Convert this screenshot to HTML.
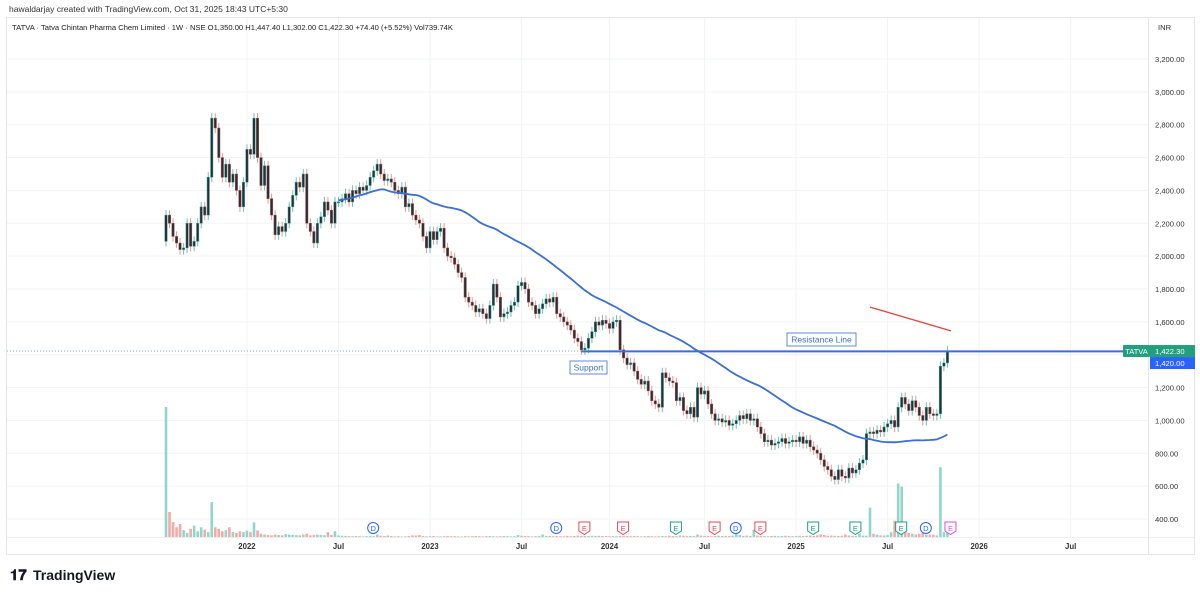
<!DOCTYPE html>
<html><head><meta charset="utf-8">
<style>
html,body{margin:0;padding:0;background:#fff;}
body{width:1200px;height:594px;position:relative;overflow:hidden;font-family:"Liberation Sans",sans-serif;}
svg{position:absolute;left:0;top:0;}
</style></head>
<body>
<svg id="chart" width="1200" height="594" xmlns="http://www.w3.org/2000/svg">
<text x="9" y="12" font-size="8.5" fill="#333">hawaldarjay created with TradingView.com, Oct 31, 2025 18:43 UTC+5:30</text>
<rect x="6.5" y="17.5" width="1188" height="537" fill="#fff" stroke="#e6e6e6"/>
<g id="grid"></g>
<line x1="1148.5" y1="18" x2="1148.5" y2="554" stroke="#e6e6e6"/>
<line x1="7" y1="537.5" x2="1194" y2="537.5" stroke="#eeeeee"/>
<text x="12" y="30" font-size="7.6" fill="#222">TATVA · Tatva Chintan Pharma Chem Limited · 1W · NSE  O1,350.00  H1,447.40  L1,302.00  C1,422.30  +74.40 (+5.52%)  Vol739.74K</text>
<text x="1158" y="30" font-size="7.6" fill="#333">INR</text>
<g id="vol"></g>
<g id="candles"></g>
<g id="overlays"></g>
<g id="axes"></g>
<g id="events"></g>
<g>
<text x="10" y="580" font-size="15" font-weight="bold" fill="#131722">𝟏𝟕</text>
<text x="33" y="580" font-size="14" font-weight="bold" fill="#131722">TradingView</text>
</g>
</svg>
<script>
const closes = [2250,2200,2120,2080,2040,2050,2200,2060,2090,2200,
2300,2250,2480,2840,2780,2600,2480,2560,2450,2500,
2400,2300,2450,2650,2620,2840,2600,2430,2550,2350,
2250,2130,2180,2150,2200,2300,2370,2450,2420,2500,
2200,2150,2080,2200,2240,2330,2280,2200,2330,2330,
2350,2380,2330,2400,2380,2420,2400,2430,2480,2520,
2560,2500,2460,2470,2450,2400,2380,2420,2300,2320,
2250,2220,2200,2120,2050,2150,2100,2150,2170,2050,
2000,1990,1950,1900,1870,1750,1720,1700,1660,1680,
1650,1620,1700,1830,1750,1630,1650,1660,1700,1720,
1820,1840,1800,1720,1700,1650,1680,1710,1740,1720,
1750,1650,1630,1600,1580,1550,1500,1480,1430,1440,
1500,1540,1600,1580,1610,1590,1560,1600,1610,1430,
1380,1340,1350,1300,1250,1220,1240,1180,1120,1100,
1080,1290,1260,1240,1230,1120,1140,1060,1040,1080,
1020,1200,1160,1180,1100,1040,1000,1010,990,1000,
970,980,1000,1030,1010,1040,1000,1010,960,920,
870,880,850,860,870,890,860,870,880,870,
900,860,880,840,820,800,760,720,700,660,
640,700,660,650,710,680,700,740,760,920,
930,920,940,930,960,980,1000,960,1080,1140,
1100,1060,1120,1080,1030,1000,1080,1040,1030,1040,
1330,1350,1422];
const firstOpen = 2090;
const volumes = [8000,1540,920,600,800,430,250,500,700,350,
600,450,300,2150,600,500,350,420,600,300,
250,350,300,400,300,900,400,200,150,120,
100,150,120,100,180,150,130,120,100,150,
200,100,120,150,130,110,300,120,350,100,
80,70,60,50,60,50,40,50,60,50,
150,80,60,90,60,40,50,30,40,60,
100,90,120,60,40,50,60,40,40,50,
60,50,50,40,30,50,40,50,60,50,
40,50,60,50,40,50,60,50,40,50,
120,80,60,50,40,50,60,150,70,60,
50,60,50,40,60,50,60,80,60,70,
60,80,60,70,60,60,50,60,50,60,
70,60,50,60,50,40,50,60,50,40,
50,60,50,70,60,50,100,80,60,70,
60,150,90,70,60,50,60,80,60,70,
60,80,300,120,70,90,60,450,90,70,
60,50,60,70,50,60,80,60,50,60,
70,60,80,90,70,100,150,120,80,90,
70,60,80,150,90,70,60,200,90,80,
1800,200,150,100,90,120,300,1000,3300,3100,
600,250,200,150,200,250,150,150,150,100,
4300,300,739.74];
const priceTicks = [3200,3000,2800,2600,2400,2200,2000,1800,1600,1400,1200,1000,800,600,400];
const timeTickLabels = ["2022","Jul","2023","Jul","2024","Jul","2025","Jul","2026","Jul"];
const timeTickWeeks = [23,49,75,101,126,153,179,205,231,257];
const resistancePrice = 1420;
const resistanceStartWeek = 118;
const trendLineWeeks = [200,223];
const trendLinePrices = [1690,1545];
const eventWeeks = [59,111,119,130,145,156,162,169,184,196,209,216,223];
const eventTypes = ["D","D","E","E","E","E","D","E","E","E","E","D","E"];
const eventColors = ["#2962ff","#2962ff","#e04b5a","#e04b5a","#1a9e8c","#e04b5a","#2962ff","#e04b5a","#1a9e8c","#1a9e8c","#1a9e8c","#2962ff","#d64fd8"];
const maPeriod = 50;

const NS="http://www.w3.org/2000/svg";
const x0=166, dx=3.52;
const xOf=i=>x0+i*dx;
const yOf=p=>519-(p-400)*(460/2800);
const volBase=537, volScale=130/8000;
function mk(tag,attrs,parent){const e=document.createElementNS(NS,tag);for(const k in attrs)e.setAttribute(k,attrs[k]);parent.appendChild(e);return e;}

const grid=document.getElementById('grid');
priceTicks.forEach(p=>{const l=mk('line',{x1:7,x2:1148,y1:yOf(p),y2:yOf(p),stroke:'#f2f3f5'},grid);

});
timeTickWeeks.forEach(w=>{const l=mk('line',{x1:xOf(w),x2:xOf(w),y1:18,y2:537,stroke:'#f2f3f5'},grid);

});

const axes=document.getElementById('axes');
priceTicks.forEach(p=>{const t=mk('text',{x:1155,y:yOf(p)+3,'font-size':'7.6',fill:'#333'},axes);t.textContent=p.toLocaleString('en-US',{minimumFractionDigits:2});

});
timeTickLabels.forEach((s,i)=>{const t=mk('text',{x:xOf(timeTickWeeks[i]),y:549,'font-size':'7.8','font-weight':'bold',fill:'#333','text-anchor':'middle'},axes);t.textContent=s;

});

const vol=document.getElementById('vol'), cg=document.getElementById('candles');
closes.forEach((c,i)=>{
  const o=i===0?firstOpen:closes[i-1];
  const up=c>=o;
  const h=volumes[i]*volScale;
  const vb=mk('rect',{x:xOf(i)-1.3,y:volBase-h,width:2.6,height:h,fill:up?'#92d5cc':'#f4aaa5'},vol);
  
  
  const top=yOf(Math.max(o,c)), bot=yOf(Math.min(o,c));
  const wk=mk('line',{x1:xOf(i),x2:xOf(i),y1:top-5,y2:bot+5,stroke:up?'#6cc2b6':'#e39a94','stroke-width':1},cg);
  
  
  const bd=mk('rect',{x:xOf(i)-1.2,y:top,width:2.4,height:Math.max(1,bot-top),fill:'#2a2e39',stroke:up?'#3a9d90':'#a0524c','stroke-width':0.5},cg);
  
  
});

const ov=document.getElementById('overlays');
let pts=[];
for(let i=maPeriod-1;i<closes.length;i++){let s=0;for(let j=i-maPeriod+1;j<=i;j++)s+=closes[j];pts.push(xOf(i).toFixed(1)+','+yOf(s/maPeriod).toFixed(1));}
const ma=mk('polyline',{points:pts.join(' '),fill:'none',stroke:'#3b6fd4','stroke-width':1.8},ov);



const dl=mk('line',{x1:7,x2:1148,y1:yOf(1422.3),y2:yOf(1422.3),stroke:'#7fb2d8','stroke-width':1,'stroke-dasharray':'1,2'},ov);


const rl=mk('line',{x1:xOf(resistanceStartWeek),x2:1148,y1:yOf(resistancePrice),y2:yOf(resistancePrice),stroke:'#3b6fd4','stroke-width':2},ov);


const tl=mk('line',{x1:xOf(trendLineWeeks[0]),x2:xOf(trendLineWeeks[1]),y1:yOf(trendLinePrices[0]),y2:yOf(trendLinePrices[1]),stroke:'#e0443e','stroke-width':1.3},ov);



function label(txt,x,y,w,name){const g=mk('g',{},ov);


mk('rect',{x:x,y:y,width:w,height:13,fill:'#fff',stroke:'#3b6fd4','stroke-width':0.8},g);
const t=mk('text',{x:x+w/2,y:y+9.5,'font-size':'8.5',fill:'#3b6fd4','text-anchor':'middle'},g);t.textContent=txt;}
label('Support',570,361,37,'support-label');
label('Resistance Line',787,333,69,'resistance-label');

const ry=yOf(1422.3);
const tg=mk('g',{},axes);


mk('rect',{x:1123,y:ry-6,width:27,height:12,fill:'#22a07e',rx:1},tg);
let t=mk('text',{x:1136.5,y:ry+3,'font-size':'7.5',fill:'#fff','text-anchor':'middle'},tg);t.textContent='TATVA';
mk('rect',{x:1150,y:ry-6,width:45,height:12,fill:'#22a07e'},tg);
t=mk('text',{x:1155,y:ry+3,'font-size':'7.6',fill:'#fff'},tg);t.textContent='1,422.30';
mk('rect',{x:1150,y:ry+6,width:45,height:12,fill:'#2962ff'},tg);
t=mk('text',{x:1155,y:ry+15,'font-size':'7.6',fill:'#fff'},tg);t.textContent='1,420.00';

const ev=document.getElementById('events');
eventWeeks.forEach((w,i)=>{const g=mk('g',{},ev);


const x=xOf(w)-0.5,y=528,c=eventColors[i];
if(eventTypes[i]==='D'){mk('circle',{cx:x,cy:y,r:5.5,fill:'#fff',stroke:c,'stroke-width':1},g);}
else{mk('path',{d:`M${x-5.5},${y-6}H${x+5.5}V${y+3}L${x},${y+6.5}L${x-5.5},${y+3}Z`,fill:'#fff',stroke:c,'stroke-width':1},g);}
const tt=mk('text',{x:x,y:y+2.8,'font-size':'7.5',fill:c,'text-anchor':'middle'},g);tt.textContent=eventTypes[i];});
</script>
</body></html>
